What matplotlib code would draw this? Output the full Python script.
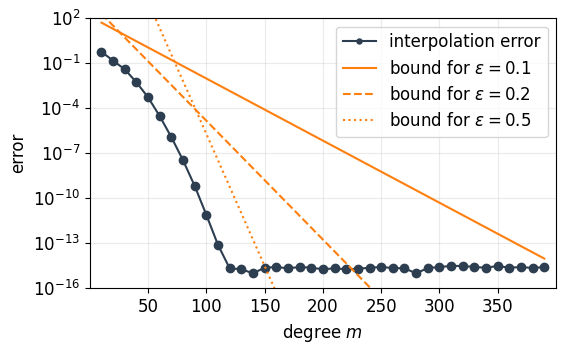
import matplotlib
matplotlib.use("Agg")
import matplotlib.pyplot as plt
import numpy as np

plt.rcParams["font.size"] = 12

degrees = list(range(10, 400, 10))
log_error = [
    -0.23, -0.83, -1.40, -2.27, -3.27, -4.53, -5.93, -7.47, -9.18, -11.11,
    -13.11, -14.67, -14.73, -15.00, -14.63, -14.58, -14.67, -14.58, -14.63, -14.73,
    -14.67, -14.73, -14.70, -14.63, -14.58, -14.65, -14.67, -15.00, -14.65, -14.58,
    -14.51, -14.51, -14.58, -14.63, -14.51, -14.63, -14.58, -14.65, -14.58,
]

# bounds are straight lines on the log axis: values at first and last degree
bound_eps = ["0.1", "0.2", "0.5"]
bound_m = [10, 390]
bound_log = [
    [1.71, -14.02],
    [2.30, -27.80],
    [10.14, -56.78],
]
bound_styles = ["-", "--", ":"]

dark = "#2c3e50"
orange = "#ff7f0e"

fig = plt.figure(figsize=(5.65, 3.52), dpi=100)
ax = fig.add_axes([0.159, 0.181, 0.825, 0.767])

ax.semilogy(degrees, 10.0 ** np.array(log_error), "-o", color=dark,
            markersize=6, linewidth=1.5, label="interpolation error")
for eps, vals, ls in zip(bound_eps, bound_log, bound_styles):
    ax.semilogy(bound_m, 10.0 ** np.array(vals), ls, color=orange,
                linewidth=1.5, label=r"bound for $\varepsilon = %s$" % eps)

ax.set_xlim(0, 400)
ax.set_ylim(1e-16, 1e2)
ax.set_xticks(range(50, 400, 50))
ax.set_yticks([10.0 ** k for k in range(-16, 3, 3)])
ax.minorticks_off()
ax.grid(True, color="#b0b0b0", alpha=0.25)
ax.set_xlabel("degree $m$")
ax.set_ylabel("error")
ax.legend(loc="upper right", markerscale=0.6)

fig.savefig("out.png", dpi=100)
